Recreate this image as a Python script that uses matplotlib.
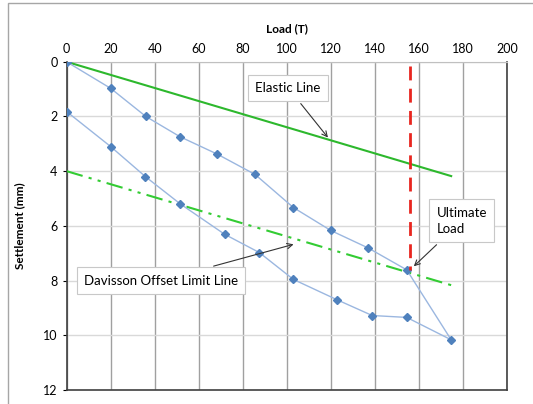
import matplotlib.pyplot as plt
from matplotlib.patches import Rectangle

plt.rcParams['font.family'] = ['Lato', 'DejaVu Sans']

# load test readings (loading then unloading), T and mm
load = [0, 20, 36, 51.5, 68.5, 85.6, 103, 120, 137, 154.5, 174.7,
        154.5, 138.8, 123, 103, 87.6, 71.8, 51.5, 35.8, 20, 0]
settle = [0, 0.97, 2.0, 2.74, 3.38, 4.12, 5.33, 6.17, 6.81, 7.61, 10.17,
          9.35, 9.28, 8.71, 7.96, 6.98, 6.31, 5.19, 4.2, 3.1, 1.82]

elastic_x = [0, 174.7]
elastic_y = [0, 4.18]
davisson_x = [0, 174.7]
davisson_y = [4.0, 8.17]
ult_load = 155.8
ult_y = [0.17, 7.63]

xticks = list(range(0, 201, 20))
yticks = list(range(0, 13, 2))

fig = plt.figure(figsize=(5.33, 4.04), dpi=100)
ax = fig.add_axes([0.125, 0.035, 0.826, 0.812])

ax.plot(load, settle, color='#9bb7e0', lw=1, marker='D', ms=4,
        mfc='#4f81bd', mec='#4f81bd', zorder=4)
ax.plot(elastic_x, elastic_y, color='#2db82d', lw=1.5, zorder=3)
ax.plot(davisson_x, davisson_y, color='#33cc33', lw=1.5,
        dashes=[8, 3, 1.5, 3, 1.5, 3], zorder=3)
ax.plot([ult_load, ult_load], ult_y, color='#e8261f', lw=2,
        dashes=[5, 3], zorder=5)

ax.set_xlim(0, 200)
ax.set_ylim(12, 0)
ax.set_xticks(xticks)
ax.set_yticks(yticks)
ax.xaxis.tick_top()
ax.xaxis.set_label_position('top')
ax.tick_params(axis='x', length=0, labelsize=9, pad=5)
ax.tick_params(axis='y', length=3, labelsize=9, direction='out')
ax.set_xlabel('Load (T)', fontsize=8.5, fontweight='bold', labelpad=8)
ax.set_ylabel('Settlement (mm)', fontsize=8.5, fontweight='bold', labelpad=13)

ax.grid(axis='x', color='#a0a0a0', lw=1)
ax.grid(axis='y', color='#d9d9d9', lw=1)
ax.set_axisbelow(True)
for s in ['left', 'bottom', 'right']:
    ax.spines[s].set_color('#404040')
    ax.spines[s].set_linewidth(1.2)
ax.spines['top'].set_color('#c0c0c0')

box = dict(boxstyle='square,pad=0.55', fc='white', ec='#c8c8c8', lw=0.8)
arrow = dict(arrowstyle='->', color='#333333', lw=0.8)
ax.annotate('Elastic Line', xy=(119.5, 2.85), xytext=(100.6, 0.95),
            ha='center', va='center', fontsize=9.5, bbox=box,
            arrowprops=arrow, zorder=6)
ax.annotate('Ultimate\nLoad', xy=(156.8, 7.55), xytext=(168.0, 5.82),
            ha='left', va='center', fontsize=9.5, bbox=box,
            arrowprops=arrow, linespacing=1.45, zorder=6)
ax.annotate('Davisson Offset Limit Line', xy=(104.3, 6.65), xytext=(42.8, 8.0),
            ha='center', va='center', fontsize=9.5, bbox=box,
            arrowprops=arrow, zorder=6)

fig.patches.append(Rectangle((8 / 533, -0.01), 1.0, 1 - 3 / 404 + 0.01,
                             transform=fig.transFigure, fill=False,
                             ec='#a6a6a6', lw=1))

fig.savefig('out.png', dpi=100)
